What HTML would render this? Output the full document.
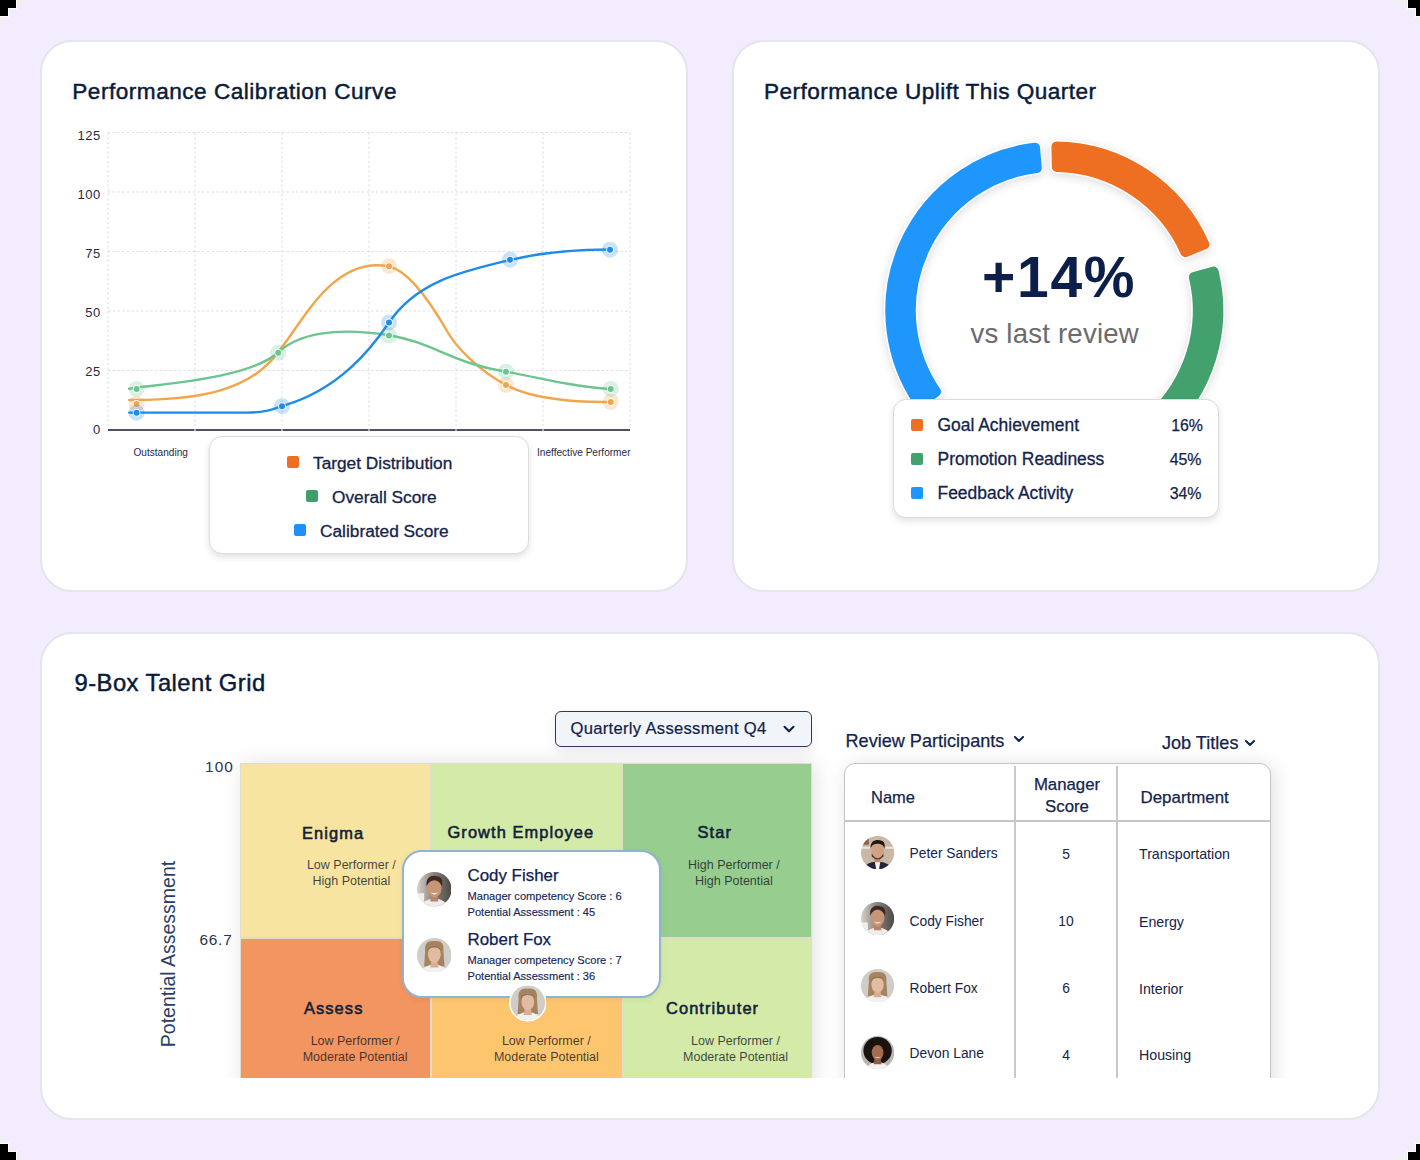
<!DOCTYPE html>
<html><head><meta charset="utf-8">
<style>
*{box-sizing:border-box;margin:0;padding:0}
html,body{width:1420px;height:1160px;overflow:hidden;background:#F0F0F0;font-family:"Liberation Sans",sans-serif;color:#0B1B3D}
.abs{position:absolute}
#bg{position:absolute;left:0;top:0;width:1420px;height:1160px;background:#F3ECFE;border-radius:34px}
.card{position:absolute;background:#fff;border:2px solid #E2E5EA;border-radius:32px}
.title{position:absolute;font-size:22.6px;letter-spacing:0.45px;color:#0A1A3A;white-space:nowrap;-webkit-text-stroke:0.45px #0A1A3A}
.t{position:absolute;white-space:nowrap}
</style></head><body>
<div id="bg"></div>
<!-- corners -->
<svg class="abs" style="left:0;top:0" width="1420" height="1160" viewBox="0 0 1420 1160">
<g fill="#fff"><path d="M0,0H17V9H9V17H0Z"/><path d="M1420,0H1407V9H1415V17H1420Z"/><path d="M0,1160H17V1151H9V1143H0Z"/><path d="M1420,1160H1407V1151H1415V1143H1420Z"/></g>
<g fill="#000"><path d="M0,0H16V8H8V16H0Z"/><path d="M1420,0H1408V8H1416V16H1420Z"/><path d="M0,1160H16V1152H8V1144H0Z"/><path d="M1420,1160H1408V1152H1416V1144H1420Z"/></g>
</svg>

<div class="card" style="left:40px;top:40px;width:648px;height:552px"></div>
<div class="card" style="left:732px;top:40px;width:648px;height:552px"></div>
<div class="card" style="left:40px;top:632px;width:1340px;height:488px"></div>

<div class="title" style="left:72.3px;top:79px;letter-spacing:0.5px">Performance Calibration Curve</div>
<div class="title" style="left:764px;top:79px">Performance Uplift This Quarter</div>
<div class="title" style="left:74.5px;top:669px;font-size:23.8px">9-Box Talent Grid</div>

<svg class="abs" style="left:0;top:0" width="1420" height="600" viewBox="0 0 1420 600">
<g stroke="#DCDEE3" stroke-width="1" stroke-dasharray="2.5 2.2" fill="none"><line x1="108" y1="132.5" x2="630" y2="132.5"/><line x1="108" y1="192" x2="630" y2="192"/><line x1="108" y1="251.5" x2="630" y2="251.5"/><line x1="108" y1="311" x2="630" y2="311"/><line x1="108" y1="370.5" x2="630" y2="370.5"/><line x1="108" y1="132.5" x2="108" y2="430"/><line x1="195" y1="132.5" x2="195" y2="430"/><line x1="282" y1="132.5" x2="282" y2="430"/><line x1="369" y1="132.5" x2="369" y2="430"/><line x1="456" y1="132.5" x2="456" y2="430"/><line x1="543" y1="132.5" x2="543" y2="430"/><line x1="630" y1="132.5" x2="630" y2="430"/></g>
<g fill="#1F2B46" font-family="Liberation Sans" font-size="13" letter-spacing="0.5"><text x="100.8" y="140.4" text-anchor="end">125</text><text x="100.8" y="199.1" text-anchor="end">100</text><text x="100.8" y="257.9" text-anchor="end">75</text><text x="100.8" y="316.7" text-anchor="end">50</text><text x="100.8" y="375.5" text-anchor="end">25</text><text x="100.8" y="434.2" text-anchor="end">0</text></g>
<line x1="108" y1="430" x2="630" y2="430" stroke="#4A5264" stroke-width="2"/>
<g stroke="#fff" stroke-width="1"><line x1="195" y1="429" x2="195" y2="431"/><line x1="282" y1="429" x2="282" y2="431"/><line x1="369" y1="429" x2="369" y2="431"/><line x1="456" y1="429" x2="456" y2="431"/><line x1="543" y1="429" x2="543" y2="431"/></g>
<g fill="none" stroke-width="2.4" stroke-linecap="round">
<path d="M129.2,400.0 C195,400.5 250,392 278.0,352.0 C298.4,330.0 331.3,254.5 389.0,266.5 C408,270.5 428,298 447,331 C456,347 478,370 506,385 C530,398.5 575,402.5 610.6,401.9" stroke="#F2A54A"/>
<path d="M129.2,388.7 C159.2,384.1 249.5,378.7 278.0,352.5 C298.1,334.1 335.2,326.4 389.0,335.3 C434.7,342.9 450.0,362.5 506.0,371.8 C540.6,377.6 568.6,386.7 610.6,389.1" stroke="#6CC48E"/>
<path d="M129.2,412.6 L247,412.6 C263,412.6 271,410 282.0,406.1 C339.1,390.2 371.7,348.1 389.0,322.5 C417.3,280.6 463.8,271.2 509.7,260.1 C544.7,251.6 575,249.5 610.2,249.5" stroke="#1E8BE8"/>
</g>
<circle cx="136.6" cy="403.9" r="8" fill="rgba(242,165,74,.25)"/><circle cx="136.6" cy="403.9" r="3.8" fill="#fff"/><circle cx="136.6" cy="403.9" r="3" fill="#F2A54A"/><circle cx="389" cy="266.2" r="8" fill="rgba(242,165,74,.25)"/><circle cx="389" cy="266.2" r="3.8" fill="#fff"/><circle cx="389" cy="266.2" r="3" fill="#F2A54A"/><circle cx="506" cy="385" r="8" fill="rgba(242,165,74,.25)"/><circle cx="506" cy="385" r="3.8" fill="#fff"/><circle cx="506" cy="385" r="3" fill="#F2A54A"/><circle cx="610.7" cy="402" r="8" fill="rgba(242,165,74,.25)"/><circle cx="610.7" cy="402" r="3.8" fill="#fff"/><circle cx="610.7" cy="402" r="3" fill="#F2A54A"/><circle cx="136.6" cy="389" r="8" fill="rgba(108,196,142,.25)"/><circle cx="136.6" cy="389" r="3.8" fill="#fff"/><circle cx="136.6" cy="389" r="3" fill="#6CC48E"/><circle cx="278.2" cy="352.8" r="8" fill="rgba(108,196,142,.25)"/><circle cx="278.2" cy="352.8" r="3.8" fill="#fff"/><circle cx="278.2" cy="352.8" r="3" fill="#6CC48E"/><circle cx="389" cy="335.6" r="8" fill="rgba(108,196,142,.25)"/><circle cx="389" cy="335.6" r="3.8" fill="#fff"/><circle cx="389" cy="335.6" r="3" fill="#6CC48E"/><circle cx="506" cy="371.7" r="8" fill="rgba(108,196,142,.25)"/><circle cx="506" cy="371.7" r="3.8" fill="#fff"/><circle cx="506" cy="371.7" r="3" fill="#6CC48E"/><circle cx="610.7" cy="389" r="8" fill="rgba(108,196,142,.25)"/><circle cx="610.7" cy="389" r="3.8" fill="#fff"/><circle cx="610.7" cy="389" r="3" fill="#6CC48E"/><circle cx="136.6" cy="412.7" r="8" fill="rgba(30,139,232,.25)"/><circle cx="136.6" cy="412.7" r="3.8" fill="#fff"/><circle cx="136.6" cy="412.7" r="3" fill="#1E8BE8"/><circle cx="282" cy="406.2" r="8" fill="rgba(30,139,232,.25)"/><circle cx="282" cy="406.2" r="3.8" fill="#fff"/><circle cx="282" cy="406.2" r="3" fill="#1E8BE8"/><circle cx="389" cy="322.4" r="8" fill="rgba(30,139,232,.25)"/><circle cx="389" cy="322.4" r="3.8" fill="#fff"/><circle cx="389" cy="322.4" r="3" fill="#1E8BE8"/><circle cx="510" cy="259.7" r="8" fill="rgba(30,139,232,.25)"/><circle cx="510" cy="259.7" r="3.8" fill="#fff"/><circle cx="510" cy="259.7" r="3" fill="#1E8BE8"/><circle cx="610" cy="249.7" r="8" fill="rgba(30,139,232,.25)"/><circle cx="610" cy="249.7" r="3.8" fill="#fff"/><circle cx="610" cy="249.7" r="3" fill="#1E8BE8"/>
<g fill="#1F2B46" font-family="Liberation Sans" font-size="10.1"><text x="133.5" y="455.5">Outstanding</text><text x="537" y="455.5">Ineffective Performer</text></g>
</svg>
<div class="abs" style="left:209px;top:436px;width:320px;height:118px;border:1.5px solid #DCDCDC;border-radius:13px;background:#fff;box-shadow:0 3px 7px rgba(0,0,0,.12)"></div>
<div class="abs" style="left:286.5px;top:456px;width:12px;height:12px;background:#EE6F22;border-radius:2px"></div>
<div class="t" style="left:313px;top:453px;font-size:17.3px;color:#14244A;-webkit-text-stroke:0.3px #14244A">Target Distribution</div>
<div class="abs" style="left:305.5px;top:490px;width:12px;height:12px;background:#3F9E69;border-radius:2px"></div>
<div class="t" style="left:332px;top:487px;font-size:17.3px;color:#14244A;-webkit-text-stroke:0.3px #14244A">Overall Score</div>
<div class="abs" style="left:293.5px;top:523.5px;width:12px;height:12px;background:#1E90F7;border-radius:2px"></div>
<div class="t" style="left:320px;top:521px;font-size:17.3px;color:#14244A;-webkit-text-stroke:0.3px #14244A">Calibrated Score</div>

<svg class="abs" style="left:700px;top:100px" width="600" height="440" viewBox="700 100 600 440">
<defs><filter id="ds" x="-20%" y="-20%" width="140%" height="140%"><feDropShadow dx="0" dy="2" stdDeviation="5" flood-color="#000" flood-opacity="0.15"/></filter></defs>
<g filter="url(#ds)"><path d="M919.56,403.99 A164,164 0 0 1 1035.03,147.64 L1036.82,168.07 A143.5,143.5 0 0 0 936.04,391.79 Z" fill="#fff" stroke="#fff" stroke-width="12.5" stroke-linejoin="round"/><path d="M1056.44,146.51 A164,164 0 0 1 1204.41,244.46 L1185.40,252.14 A143.5,143.5 0 0 0 1056.80,167.02 Z" fill="#fff" stroke="#fff" stroke-width="12.5" stroke-linejoin="round"/><path d="M1213.60,271.51 A164,164 0 0 1 1163.50,432.86 L1150.31,417.15 A143.5,143.5 0 0 0 1193.83,276.99 Z" fill="#fff" stroke="#fff" stroke-width="12.5" stroke-linejoin="round"/></g>
<path d="M919.56,403.99 A164,164 0 0 1 1035.03,147.64 L1036.82,168.07 A143.5,143.5 0 0 0 936.04,391.79 Z" fill="#1E96FC" stroke="#1E96FC" stroke-width="10" stroke-linejoin="round"/><path d="M1056.44,146.51 A164,164 0 0 1 1204.41,244.46 L1185.40,252.14 A143.5,143.5 0 0 0 1056.80,167.02 Z" fill="#EE6F22" stroke="#EE6F22" stroke-width="10" stroke-linejoin="round"/><path d="M1213.60,271.51 A164,164 0 0 1 1163.50,432.86 L1150.31,417.15 A143.5,143.5 0 0 0 1193.83,276.99 Z" fill="#42A16D" stroke="#42A16D" stroke-width="10" stroke-linejoin="round"/>
</svg>
<div class="t" style="left:982px;top:244px;font-size:57px;font-weight:bold;letter-spacing:1.7px;color:#0B1F4A">+14%</div>
<div class="t" style="left:970.5px;top:318px;font-size:27.6px;letter-spacing:0.2px;color:#6B6B6E">vs last review</div>
<div class="abs" style="left:893px;top:398.5px;width:326px;height:119px;border:1.5px solid #DCDCDC;border-radius:13px;background:#fff;box-shadow:0 3px 7px rgba(0,0,0,.12)"></div>
<div class="abs" style="left:911px;top:419px;width:12px;height:12px;background:#EE6F22;border-radius:2px"></div>
<div class="t" style="left:937.5px;top:415px;font-size:17.45px;color:#14244A;-webkit-text-stroke:0.3px #14244A">Goal Achievement</div>
<div class="t" style="left:1140px;top:417px;width:63px;text-align:right;font-size:15.9px;color:#14244A;-webkit-text-stroke:0.25px #14244A">16%</div>
<div class="abs" style="left:911px;top:453px;width:12px;height:12px;background:#42A16D;border-radius:2px"></div>
<div class="t" style="left:937.5px;top:449px;font-size:17.45px;color:#14244A;-webkit-text-stroke:0.3px #14244A">Promotion Readiness</div>
<div class="t" style="left:1140px;top:451px;width:61.5px;text-align:right;font-size:15.9px;color:#14244A;-webkit-text-stroke:0.25px #14244A">45%</div>
<div class="abs" style="left:911px;top:487px;width:12px;height:12px;background:#1E96FC;border-radius:2px"></div>
<div class="t" style="left:937.5px;top:483px;font-size:17.45px;color:#14244A;-webkit-text-stroke:0.3px #14244A">Feedback Activity</div>
<div class="t" style="left:1140px;top:485px;width:61.5px;text-align:right;font-size:15.9px;color:#14244A;-webkit-text-stroke:0.25px #14244A">34%</div>

<div class="abs" style="left:0;top:700px;width:1420px;height:377.5px;overflow:hidden"><div class="abs" style="left:239.7px;top:62.7px;width:572px;height:330px;background:#E0DCD0;box-shadow:3px 0 20px rgba(0,0,0,.12)"></div><div class="abs" style="left:240.5px;top:63.5px;width:189.5px;height:173.5px;background:#F7E4A0"></div><div class="abs" style="left:432px;top:63.5px;width:189.5px;height:173.5px;background:#D4EAA8"></div><div class="abs" style="left:623px;top:63.5px;width:188px;height:173.5px;background:#97CD8F"></div><div class="abs" style="left:240.5px;top:239px;width:189.5px;height:140px;background:#F29560"></div><div class="abs" style="left:432px;top:239px;width:189.5px;height:140px;background:#FDC66E"></div><div class="abs" style="left:623px;top:239px;width:188px;height:140px;background:#D4EAA8"></div><div class="abs" style="left:843.9px;top:63.4px;width:427.5px;height:340px;border:1.7px solid #C4C4C4;border-radius:11px;background:#fff;box-shadow:3px 2px 20px rgba(0,0,0,.13)"></div></div><div class="t" style="left:302px;top:823.5px;font-size:16.4px;color:#102036;letter-spacing:1.1px;-webkit-text-stroke:0.55px #102036">Enigma</div><div class="t" style="left:447.5px;top:822.5px;font-size:16.4px;color:#102036;letter-spacing:1.1px;-webkit-text-stroke:0.55px #102036">Growth Employee</div><div class="t" style="left:697.5px;top:822.5px;font-size:16.4px;color:#102036;letter-spacing:1.1px;-webkit-text-stroke:0.55px #102036">Star</div><div class="t" style="left:304px;top:999px;font-size:16.4px;color:#102036;letter-spacing:1.1px;-webkit-text-stroke:0.55px #102036">Assess</div><div class="t" style="left:666px;top:998.5px;font-size:16.4px;color:#102036;letter-spacing:1.1px;-webkit-text-stroke:0.55px #102036">Contributer</div><div class="t" style="left:281.4px;top:857px;font-size:12.5px;color:rgba(22,26,40,.82);text-align:center;line-height:16px;width:140px">Low Performer /<br>High Potential</div><div class="t" style="left:663.9px;top:857px;font-size:12.5px;color:rgba(22,26,40,.82);text-align:center;line-height:16px;width:140px">High Performer /<br>High Potential</div><div class="t" style="left:285.1px;top:1032.5px;font-size:12.5px;color:rgba(22,26,40,.82);text-align:center;line-height:16px;width:140px">Low Performer /<br>Moderate Potential</div><div class="t" style="left:476.4px;top:1032.5px;font-size:12.5px;color:rgba(22,26,40,.82);text-align:center;line-height:16px;width:140px">Low Performer /<br>Moderate Potential</div><div class="t" style="left:665.5px;top:1032.5px;font-size:12.5px;color:rgba(22,26,40,.82);text-align:center;line-height:16px;width:140px">Low Performer /<br>Moderate Potential</div><div class="t" style="left:205px;top:758px;font-size:15.4px;color:#2A3550;letter-spacing:1.1px">100</div><div class="t" style="left:199.5px;top:930.5px;font-size:15.4px;color:#2A3550;letter-spacing:0.75px">66.7</div><div class="t" style="left:167.5px;top:954.2px;font-size:19.5px;color:#2A3F66;transform:translate(-50%,-50%) rotate(-90deg)">Potential Assessment</div><div class="abs" style="left:554.5px;top:710.5px;width:257px;height:36px;border:1.5px solid #2B3A5A;border-radius:6px;background:#F1F4F9;box-shadow:0 5px 12px rgba(0,0,0,.08)"></div><div class="t" style="left:570.5px;top:719px;font-size:16.6px;color:#0F2248;letter-spacing:0.3px;-webkit-text-stroke:0.2px #0F2248">Quarterly Assessment Q4</div><svg class="abs" style="left:780px;top:722px" width="18" height="14"><path d="M4.5,4.8 L9,9.3 L13.5,4.8" fill="none" stroke="#0F2248" stroke-width="2.1" stroke-linecap="round" stroke-linejoin="round"/></svg><div class="abs" style="left:402px;top:850px;width:259px;height:148px;border:2px solid #8FB3D2;border-radius:20px;background:#fff;box-shadow:0 2px 6px rgba(0,0,0,.05)"></div><svg class="abs" style="left:416.9px;top:872.1px" width="34.6" height="34.6" viewBox="-17.3 -17.3 34.6 34.6"><defs><clipPath id="avcody434889"><circle r="17.3"/></clipPath><linearGradient id="gavcody434889" x1="0" x2="1" y1="0" y2="0"><stop offset="0" stop-color="#D9D3CC"/><stop offset=".45" stop-color="#8C8580"/><stop offset="1" stop-color="#4E4946"/></linearGradient></defs><g clip-path="url(#avcody434889)"><rect x="-17.3" y="-17.3" width="34.6" height="34.6" fill="url(#gavcody434889)"/><path d="M-17.30,4.07 L-10.18,4.07 L-10.18,17.30 L-17.30,17.30Z" fill="#F2EFEA" /><ellipse cx="0.00" cy="18.32" rx="13.23" ry="9.16" fill="#EEEDEB" /><path d="M-3.05,6.11 L3.05,6.11 L4.07,12.21 L-4.07,12.21Z" fill="#B98466" /><ellipse cx="0.00" cy="-1.02" rx="7.12" ry="9.16" fill="#C99577" /><path d="M-7.63,-3.05 C-9.16,-12.21 -2.04,-14.25 1.02,-13.23 C7.12,-13.23 9.16,-9.16 7.63,-3.05 C6.11,-7.12 3.05,-9.16 0.00,-9.16 C-3.05,-9.16 -6.11,-7.12 -7.63,-3.05Z" fill="#3B2A21" /><path d="M-4.07,3.05 Q0.00,7.12 4.07,3.05 Q0.00,5.09 -4.07,3.05Z" fill="#fff" /></g></svg><svg class="abs" style="left:416.9px;top:937.7px" width="34.6" height="34.6" viewBox="-17.3 -17.3 34.6 34.6"><defs><clipPath id="avwoman434955"><circle r="17.3"/></clipPath></defs><g clip-path="url(#avwoman434955)"><rect x="-17.3" y="-17.3" width="34.6" height="34.6" fill="#D0CCC7"/><path d="M-9.16,-4.07 C-10.18,-14.25 -4.07,-14.25 0.00,-14.25 C4.07,-14.25 10.18,-14.25 9.16,-4.07 L10.18,11.19 L-10.18,11.19Z" fill="#A4835F" /><ellipse cx="0.00" cy="18.32" rx="13.23" ry="9.16" fill="#F1F1F0" /><path d="M-3.05,5.09 L3.05,5.09 L4.07,12.21 L-4.07,12.21Z" fill="#D9AE94" /><ellipse cx="0.00" cy="-1.02" rx="6.41" ry="8.45" fill="#E3BBA2" /><path d="M-7.12,-4.07 C-6.11,-11.19 6.11,-11.19 7.12,-4.07 C5.09,-9.16 -5.09,-9.16 -7.12,-4.07Z" fill="#94714F" /></g></svg><div class="t" style="left:467.5px;top:865.5px;font-size:16.9px;color:#0E2150;-webkit-text-stroke:0.25px #0E2150">Cody Fisher</div><div class="t" style="left:467.5px;top:889.5px;font-size:11.1px;color:#12265A;-webkit-text-stroke:0.15px #12265A;">Manager competency Score : 6</div><div class="t" style="left:467.5px;top:905.5px;font-size:11.1px;color:#12265A;-webkit-text-stroke:0.15px #12265A;">Potential Assessment : 45</div><div class="t" style="left:467.5px;top:929.5px;font-size:16.9px;color:#0E2150;-webkit-text-stroke:0.25px #0E2150">Robert Fox</div><div class="t" style="left:467.5px;top:953.5px;font-size:11.1px;color:#12265A;-webkit-text-stroke:0.15px #12265A;">Manager competency Score : 7</div><div class="t" style="left:467.5px;top:969.5px;font-size:11.1px;color:#12265A;-webkit-text-stroke:0.15px #12265A;">Potential Assessment : 36</div><svg class="abs" style="left:508.7px;top:984.1px" width="37.6" height="37.6" viewBox="-18.8 -18.8 37.6 37.6"><defs><clipPath id="avwoman5271002"><circle r="17.3"/></clipPath></defs><circle r="18.8" fill="#fff"/><g clip-path="url(#avwoman5271002)"><rect x="-17.3" y="-17.3" width="34.6" height="34.6" fill="#D0CCC7"/><path d="M-9.16,-4.07 C-10.18,-14.25 -4.07,-14.25 0.00,-14.25 C4.07,-14.25 10.18,-14.25 9.16,-4.07 L10.18,11.19 L-10.18,11.19Z" fill="#A4835F" /><ellipse cx="0.00" cy="18.32" rx="13.23" ry="9.16" fill="#F1F1F0" /><path d="M-3.05,5.09 L3.05,5.09 L4.07,12.21 L-4.07,12.21Z" fill="#D9AE94" /><ellipse cx="0.00" cy="-1.02" rx="6.41" ry="8.45" fill="#E3BBA2" /><path d="M-7.12,-4.07 C-6.11,-11.19 6.11,-11.19 7.12,-4.07 C5.09,-9.16 -5.09,-9.16 -7.12,-4.07Z" fill="#94714F" /></g></svg>
<div class="t" style="left:845.5px;top:731px;font-size:18.1px;color:#14244A;-webkit-text-stroke:0.25px #14244A;">Review Participants</div><svg class="abs" style="left:1010px;top:732px" width="18" height="14"><path d="M5,5 L9,9 L13,5" fill="none" stroke="#14244A" stroke-width="2.1" stroke-linecap="round" stroke-linejoin="round"/></svg><div class="t" style="left:1162px;top:732.5px;font-size:18.1px;color:#14244A;-webkit-text-stroke:0.25px #14244A;">Job Titles</div><svg class="abs" style="left:1240.5px;top:735.5px" width="18" height="14"><path d="M5,5 L9,9 L13,5" fill="none" stroke="#14244A" stroke-width="2.1" stroke-linecap="round" stroke-linejoin="round"/></svg><div class="abs" style="left:0;top:700px;width:1420px;height:377.5px;overflow:hidden"><div class="abs" style="left:845px;top:120px;width:425px;height:2px;background:#C6C6C6"></div><div class="abs" style="left:1014px;top:66px;width:2px;height:320px;background:#C9C9C9"></div><div class="abs" style="left:1116px;top:66px;width:2px;height:320px;background:#C9C9C9"></div></div><div class="t" style="left:871px;top:788px;font-size:16.5px;color:#14244A;-webkit-text-stroke:0.25px #14244A;">Name</div><div class="t" style="left:1016px;top:773.5px;width:100px;text-align:center;font-size:16.8px;line-height:22.3px;color:#14244A;-webkit-text-stroke:0.25px #14244A;padding-left:2px">Manager<br>Score</div><div class="t" style="left:1140.5px;top:788px;font-size:16.9px;color:#14244A;-webkit-text-stroke:0.25px #14244A;">Department</div><svg class="abs" style="left:860.8px;top:835.7px" width="33.2" height="33.2" viewBox="-16.6 -16.6 33.2 33.2"><defs><clipPath id="avpeter877852"><circle r="16.6"/></clipPath></defs><g clip-path="url(#avpeter877852)"><rect x="-16.6" y="-16.6" width="33.2" height="33.2" fill="#C9B8A6"/><path d="M-16.60,-5.86 L-7.81,-5.86 L-7.81,-3.91 L-16.60,-3.91Z" fill="#EDE6DD" /><path d="M7.81,-5.86 L16.60,-5.86 L16.60,-3.91 L7.81,-3.91Z" fill="#EDE6DD" /><path d="M-16.60,-16.60 L-8.79,-16.60 L-8.79,-7.81 L-16.60,-7.81Z" fill="#8E5E46" /><ellipse cx="0.00" cy="18.55" rx="14.65" ry="9.76" fill="#1E2638" /><path d="M-2.93,7.81 L2.93,7.81 L1.46,16.60 L-1.46,16.60Z" fill="#F4F4F4" /><path d="M-2.93,4.88 L2.93,4.88 L2.93,9.76 L-2.93,9.76Z" fill="#BE8B70" /><ellipse cx="0.00" cy="-1.95" rx="6.35" ry="8.30" fill="#D2A085" /><path d="M-5.86,0.98 Q0.00,10.74 5.86,0.98 L5.86,3.91 Q0.00,9.76 -5.86,3.91Z" fill="#3F3029" /><path d="M-6.84,-3.91 C-7.81,-12.69 -0.98,-12.69 0.00,-12.69 C6.84,-12.69 7.81,-8.79 6.84,-3.91 C5.86,-7.81 2.93,-8.79 0.00,-8.79 C-2.93,-8.79 -5.86,-7.81 -6.84,-3.91Z" fill="#1F1713" /></g></svg><div class="t" style="left:909.5px;top:845.5px;font-size:13.8px;color:#14244A;">Peter Sanders</div><div class="t" style="left:1016px;top:847px;width:100px;text-align:center;font-size:13.8px;color:#14244A">5</div><div class="t" style="left:1139px;top:845.5px;font-size:14.2px;color:#14244A;">Transportation</div><svg class="abs" style="left:860.8px;top:902.3px" width="33.2" height="33.2" viewBox="-16.6 -16.6 33.2 33.2"><defs><clipPath id="avcody877918"><circle r="16.6"/></clipPath><linearGradient id="gavcody877918" x1="0" x2="1" y1="0" y2="0"><stop offset="0" stop-color="#D9D3CC"/><stop offset=".45" stop-color="#8C8580"/><stop offset="1" stop-color="#4E4946"/></linearGradient></defs><g clip-path="url(#avcody877918)"><rect x="-16.6" y="-16.6" width="33.2" height="33.2" fill="url(#gavcody877918)"/><path d="M-16.60,3.91 L-9.76,3.91 L-9.76,16.60 L-16.60,16.60Z" fill="#F2EFEA" /><ellipse cx="0.00" cy="17.58" rx="12.69" ry="8.79" fill="#EEEDEB" /><path d="M-2.93,5.86 L2.93,5.86 L3.91,11.72 L-3.91,11.72Z" fill="#B98466" /><ellipse cx="0.00" cy="-0.98" rx="6.84" ry="8.79" fill="#C99577" /><path d="M-7.32,-2.93 C-8.79,-11.72 -1.95,-13.67 0.98,-12.69 C6.84,-12.69 8.79,-8.79 7.32,-2.93 C5.86,-6.84 2.93,-8.79 0.00,-8.79 C-2.93,-8.79 -5.86,-6.84 -7.32,-2.93Z" fill="#3B2A21" /><path d="M-3.91,2.93 Q0.00,6.84 3.91,2.93 Q0.00,4.88 -3.91,2.93Z" fill="#fff" /></g></svg><div class="t" style="left:909.5px;top:914px;font-size:13.8px;color:#14244A;">Cody Fisher</div><div class="t" style="left:1016px;top:914.3px;width:100px;text-align:center;font-size:13.8px;color:#14244A">10</div><div class="t" style="left:1139px;top:913.6px;font-size:14.2px;color:#14244A;">Energy</div><svg class="abs" style="left:860.8px;top:969.2px" width="33.2" height="33.2" viewBox="-16.6 -16.6 33.2 33.2"><defs><clipPath id="avwoman877985"><circle r="16.6"/></clipPath></defs><g clip-path="url(#avwoman877985)"><rect x="-16.6" y="-16.6" width="33.2" height="33.2" fill="#D0CCC7"/><path d="M-8.79,-3.91 C-9.76,-13.67 -3.91,-13.67 0.00,-13.67 C3.91,-13.67 9.76,-13.67 8.79,-3.91 L9.76,10.74 L-9.76,10.74Z" fill="#A4835F" /><ellipse cx="0.00" cy="17.58" rx="12.69" ry="8.79" fill="#F1F1F0" /><path d="M-2.93,4.88 L2.93,4.88 L3.91,11.72 L-3.91,11.72Z" fill="#D9AE94" /><ellipse cx="0.00" cy="-0.98" rx="6.15" ry="8.10" fill="#E3BBA2" /><path d="M-6.84,-3.91 C-5.86,-10.74 5.86,-10.74 6.84,-3.91 C4.88,-8.79 -4.88,-8.79 -6.84,-3.91Z" fill="#94714F" /></g></svg><div class="t" style="left:909.5px;top:981.1px;font-size:13.8px;color:#14244A;">Robert Fox</div><div class="t" style="left:1016px;top:981.3px;width:100px;text-align:center;font-size:13.8px;color:#14244A">6</div><div class="t" style="left:1139px;top:980.6px;font-size:14.2px;color:#14244A;">Interior</div><svg class="abs" style="left:860.8px;top:1035.6px" width="33.2" height="33.2" viewBox="-16.6 -16.6 33.2 33.2"><defs><clipPath id="avdevon8771052"><circle r="16.6"/></clipPath></defs><g clip-path="url(#avdevon8771052)"><rect x="-16.6" y="-16.6" width="33.2" height="33.2" fill="#B8B6B5"/><ellipse cx="0.00" cy="-1.95" rx="14.16" ry="13.67" fill="#1A1310" /><ellipse cx="0.00" cy="17.58" rx="11.72" ry="7.81" fill="#F4F1EF" /><path d="M-2.93,4.88 L2.93,4.88 L3.91,11.72 L-3.91,11.72Z" fill="#8F5D43" /><ellipse cx="0.00" cy="0.00" rx="5.86" ry="7.62" fill="#A56D50" /><path d="M-3.42,3.91 Q0.00,6.84 3.42,3.91 Q0.00,5.37 -3.42,3.91Z" fill="#fff" /></g></svg><div class="t" style="left:909.5px;top:1046.2px;font-size:13.8px;color:#14244A;">Devon Lane</div><div class="t" style="left:1016px;top:1048px;width:100px;text-align:center;font-size:13.8px;color:#14244A">4</div><div class="t" style="left:1139px;top:1047.2px;font-size:14.2px;color:#14244A;">Housing</div>
</body></html>
